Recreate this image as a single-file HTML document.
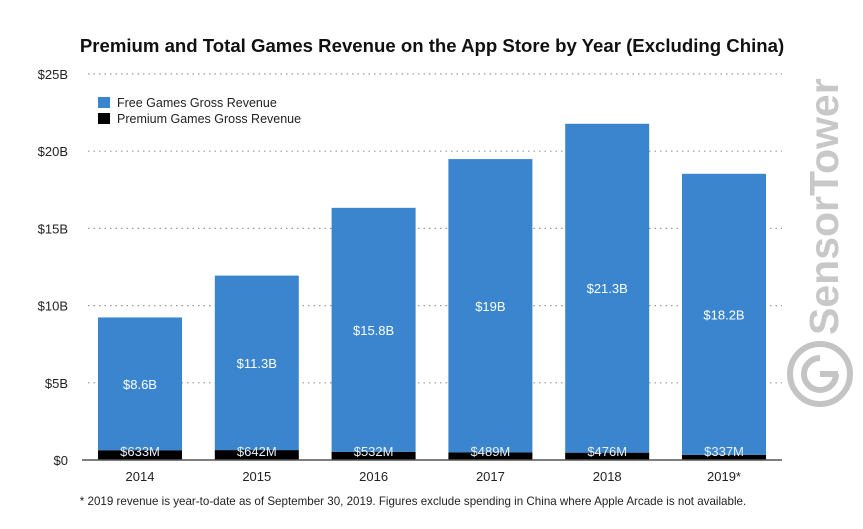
<!DOCTYPE html>
<html><head><meta charset="utf-8"><style>
body{margin:0;background:#fff;width:863px;height:529px;overflow:hidden;font-family:"Liberation Sans",Arial,sans-serif}
</style></head><body>
<svg width="863" height="529" style="position:absolute;left:0;top:0">
<text x="432" y="52" text-anchor="middle" font-size="18.6" font-weight="bold" fill="#111">Premium and Total Games Revenue on the App Store by Year (Excluding China)</text>
<g id="grid"></g><g id="bars"></g>
<g>
<rect x="98" y="97" width="12" height="11" fill="#3a85cd"/>
<text x="117" y="107" font-size="12.5" fill="#222">Free Games Gross Revenue</text>
<rect x="98" y="113" width="12" height="11" fill="#000"/>
<text x="117" y="123" font-size="12.5" fill="#222">Premium Games Gross Revenue</text>
</g>
<text x="413" y="505" text-anchor="middle" font-size="11.6" fill="#222">* 2019 revenue is year-to-date as of September 30, 2019. Figures exclude spending in China where Apple Arcade is not available.</text>
<g fill="#c4c4c4">
<text transform="translate(838,335) rotate(-90)" font-size="41" font-weight="bold" fill="#c8c8c8">SensorTower</text>
<circle cx="820" cy="374" r="30" fill="none" stroke="#c4c4c4" stroke-width="6"/>
<path d="M820 374 h18" stroke="#c4c4c4" stroke-width="6"/>
<path d="M820 358 a16 16 0 1 0 16 16" fill="none" stroke="#c4c4c4" stroke-width="6"/>
</g>
</svg>
<script>
const years=["2014","2015","2016","2017","2018","2019*"];
const premium=[0.633,0.642,0.532,0.489,0.476,0.337];
const free=[8.6,11.3,15.8,19,21.3,18.2];
const premiumLabels=["$633M","$642M","$532M","$489M","$476M","$337M"];
const freeLabels=["$8.6B","$11.3B","$15.8B","$19B","$21.3B","$18.2B"];
const ticks=[0,5,10,15,20,25];
const tickLabels=["$0","$5B","$10B","$15B","$20B","$25B"];
const NS="http://www.w3.org/2000/svg";
const y0=460,pxPer=15.44,x0=98,step=116.8,bw=84;
const y=v=>y0-v*pxPer, x=i=>x0+i*step;
function mk(t,a,p,txt){const e=document.createElementNS(NS,t);for(const k in a)e.setAttribute(k,a[k]);if(txt!=null)e.textContent=txt;p.appendChild(e);return e;}
const g=document.getElementById('grid'),b=document.getElementById('bars');
ticks.forEach((t,i)=>{
 if(t>0){const l=mk('line',{x1:88,x2:782,y1:y(t),y2:y(t),stroke:'#999','stroke-width':1.2,'stroke-dasharray':'1.5 4'},g);
 
 }
 const tx=mk('text',{x:68,y:y(t)+5,'text-anchor':'end','font-size':13,fill:'#222'},g,tickLabels[i]);
 
 
});
years.forEach((yr,i)=>{
 const p=mk('rect',{x:x(i),y:y(premium[i]),width:bw,height:premium[i]*pxPer,fill:'#000'},b);
 
 
 const f=mk('rect',{x:x(i),y:y(premium[i]+free[i]),width:bw,height:free[i]*pxPer,fill:'#3a85cd'},b);
 
 
 const cx=x(i)+bw/2;
 const pl=mk('text',{x:cx,y:y0-4,'text-anchor':'middle','font-size':13,fill:'#e8f0fa'},b,premiumLabels[i]);
 
 
 const fl=mk('text',{x:cx,y:y(premium[i]+free[i]/2)+5,'text-anchor':'middle','font-size':13,fill:'#fff'},b,freeLabels[i]);
 
 
 const xl=mk('text',{x:cx,y:y0+21,'text-anchor':'middle','font-size':13,fill:'#222'},b,yr);
 
 
});
const ax=mk('line',{x1:82,x2:782,y1:y0,y2:y0,stroke:'#555','stroke-width':1.5},b);


</script>
</body></html>
